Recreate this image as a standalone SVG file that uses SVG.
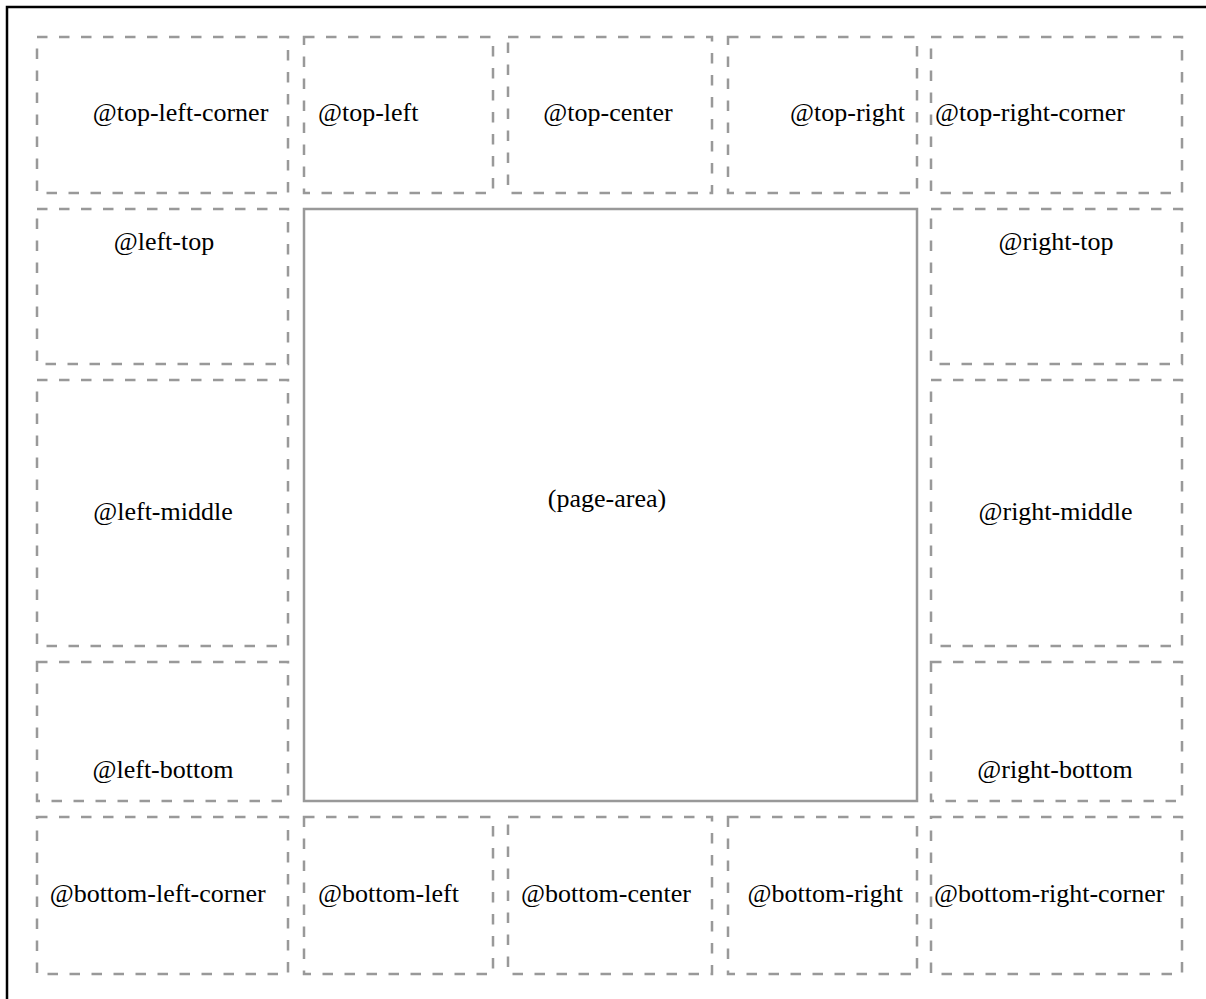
<svg xmlns="http://www.w3.org/2000/svg" width="1206" height="999" viewBox="0 0 1206 999">
<style>
.box{fill:none;stroke:#999;stroke-width:2.5;stroke-dasharray:10.5 11.5}
.page{fill:none;stroke:#999;stroke-width:2.5}
.frame{fill:none;stroke:#000;stroke-width:2.5}
text{font-family:"Liberation Serif","Times New Roman",serif;font-size:26px;fill:#000}
.s{text-anchor:start}.m{text-anchor:middle}.e{text-anchor:end}
</style>
<rect width="1206" height="999" fill="#fff"/>
<path class="frame" d="M7,1010 V7 H1220"/>
<g id="top-left-corner"><rect class="box" x="37" y="37" width="251" height="156"/><text class="e" x="268.3" y="121">@top-left-corner</text></g>
<g id="top-left"><rect class="box" x="304" y="37" width="189" height="156"/><text class="s" x="318" y="121">@top-left</text></g>
<g id="top-center"><rect class="box" x="508" y="37" width="204" height="156"/><text class="m" x="608" y="121">@top-center</text></g>
<g id="top-right"><rect class="box" x="728" y="37" width="189" height="156"/><text class="e" x="905" y="121">@top-right</text></g>
<g id="top-right-corner"><rect class="box" x="931" y="37" width="251" height="156"/><text class="s" x="935" y="121">@top-right-corner</text></g>
<g id="left-top"><rect class="box" x="37" y="209" width="251" height="155"/><text class="m" x="164" y="250">@left-top</text></g>
<g id="left-middle"><rect class="box" x="37" y="380" width="251" height="266"/><text class="m" x="163" y="520">@left-middle</text></g>
<g id="left-bottom"><rect class="box" x="37" y="662" width="251" height="139"/><text class="m" x="163" y="778">@left-bottom</text></g>
<g id="page-area"><rect class="page" x="304" y="209" width="613" height="592"/><text class="m" x="607" y="507">(page-area)</text></g>
<g id="right-top"><rect class="box" x="931" y="209" width="251" height="155"/><text class="m" x="1056" y="250">@right-top</text></g>
<g id="right-middle"><rect class="box" x="931" y="380" width="251" height="266"/><text class="m" x="1055.5" y="520">@right-middle</text></g>
<g id="right-bottom"><rect class="box" x="931" y="662" width="251" height="139"/><text class="m" x="1055" y="778">@right-bottom</text></g>
<g id="bottom-left-corner"><rect class="box" x="37" y="817" width="251" height="157"/><text class="e" x="265.7" y="902">@bottom-left-corner</text></g>
<g id="bottom-left"><rect class="box" x="304" y="817" width="189" height="157"/><text class="s" x="318" y="902">@bottom-left</text></g>
<g id="bottom-center"><rect class="box" x="508" y="817" width="204" height="157"/><text class="m" x="606" y="902">@bottom-center</text></g>
<g id="bottom-right"><rect class="box" x="728" y="817" width="189" height="157"/><text class="e" x="903" y="902">@bottom-right</text></g>
<g id="bottom-right-corner"><rect class="box" x="931" y="817" width="251" height="157"/><text class="s" x="934" y="902">@bottom-right-corner</text></g>
<g id="connectors"/>
</svg>
